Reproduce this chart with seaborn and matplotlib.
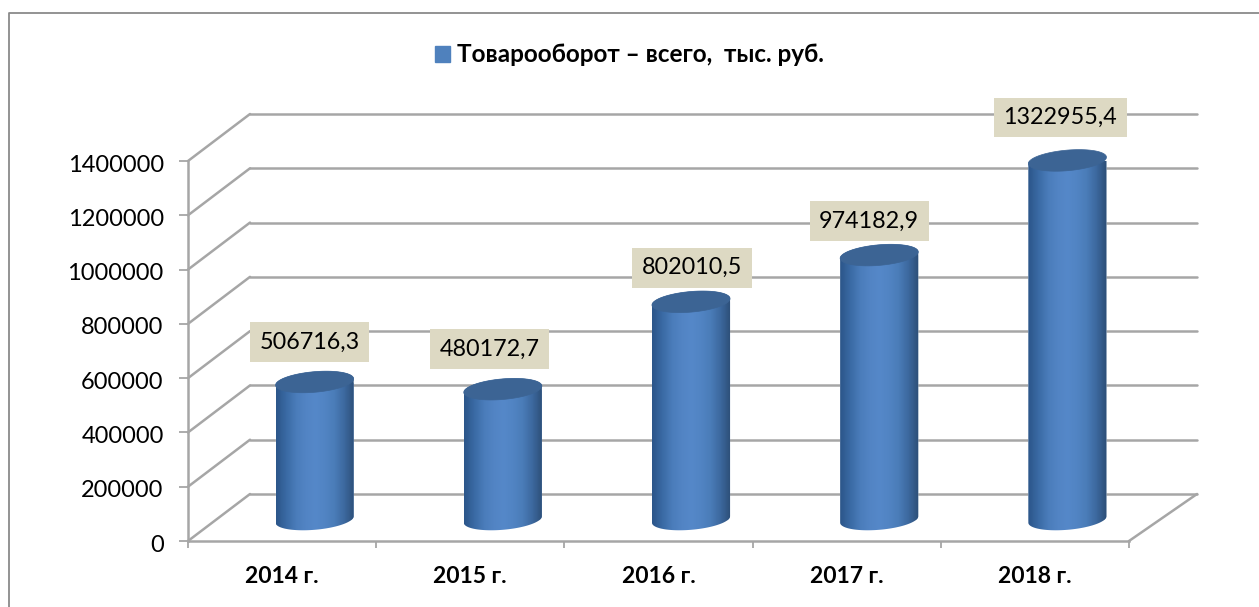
import numpy as np
import pandas as pd
import matplotlib
matplotlib.use("Agg")
import matplotlib.pyplot as plt
import seaborn as sns
from matplotlib.lines import Line2D
from matplotlib.patches import Patch, Polygon
from matplotlib.transforms import ScaledTranslation

years = ["2014 г.", "2015 г.", "2016 г.", "2017 г.", "2018 г."]
turnover = [506716.3, 480172.7, 802010.5, 974182.9, 1322955.4]
value_labels = ["506716,3", "480172,7", "802010,5", "974182,9", "1322955,4"]
y_ticks = [0, 200000, 400000, 600000, 800000, 1000000, 1200000, 1400000]
legend_label = "Товарооборот – всего,  тыс. руб."

W, H, DPI = 1259, 607, 100
sns.set_theme(style="white")
plt.rcParams["font.family"] = ["Lato", "Open Sans", "DejaVu Sans"]

GRID = "#A6A6A6"
LW = 1.8
fig = plt.figure(figsize=(W / DPI, H / DPI), dpi=DPI, facecolor="white")
ax = fig.add_axes([188 / W, 1 - 541 / H, (1129 - 188) / W, (541 - 161) / H])
ax.patch.set_alpha(0)

df = pd.DataFrame({"year": years, "value": turnover})
sns.barplot(data=df, x="year", y="value", color="#4F81BD", saturation=1,
            width=0.415, ax=ax, zorder=3)
ax.set_xlim(-0.5, 4.5)
ax.set_ylim(0, 1400000)
ax.set_xlabel("")
ax.set_ylabel("")
ax.set_yticks(y_ticks)
ax.set_yticklabels([str(v) for v in y_ticks])


def px_shift(dx, dy):
    return ScaledTranslation(dx / DPI, -dy / DPI, fig.dpi_scale_trans)


# back wall and floor
back = ax.transData + px_shift(62, -47)
right_extra = 6 / 188.2
for v in y_ticks:
    ax.plot([-0.5, 4.5 + right_extra], [v, v], color=GRID, lw=LW, transform=back,
            clip_on=False, zorder=1, solid_capstyle="round")
    start = ax.transData.transform((-0.5, v))
    end = back.transform((-0.5, v))
    ax.plot([start[0], end[0]], [start[1], end[1]], color=GRID, lw=LW, transform=None,
            clip_on=False, zorder=1)
s = ax.transData.transform((4.5, 0))
e = back.transform((4.5 + right_extra, 0))
ax.plot([s[0], e[0]], [s[1], e[1]], color=GRID, lw=LW, transform=None, clip_on=False, zorder=1)

# cylinders
mid = ax.transData + px_shift(32.5, -21.5)
sy = 1400000 / 380
ry = 10.3 * sy
tilt = 3.2 * sy
theta = np.linspace(0, 2 * np.pi, 121)
cmap = matplotlib.colors.LinearSegmentedColormap.from_list(
    "cyl", ["#2C568A", "#3A6AA4", "#4A7CBA", "#5284C4", "#5588C9", "#5184C3",
            "#4A7CB8", "#3C689E", "#2D4F78"])
for bar in list(ax.patches):
    x0, w, h = bar.get_x(), bar.get_width(), bar.get_height()
    xc, rx = x0 + w / 2, w / 2
    lower = np.linspace(np.pi, 2 * np.pi, 61)
    upper = np.linspace(0, np.pi, 61)
    body = np.vstack([
        np.c_[xc + rx * np.cos(lower), ry * np.sin(lower) + tilt * np.cos(lower)],
        np.c_[xc + rx * np.cos(upper), h + ry * np.sin(upper) + tilt * np.cos(upper)],
    ])
    cyl = Polygon(body, closed=True, transform=mid, facecolor="none", edgecolor="none")
    ax.add_patch(cyl)
    bar.set_transform(mid)
    bar.set_clip_path(cyl)
    im = ax.imshow(np.linspace(0, 1, 64)[None, :], cmap=cmap, aspect="auto",
                   extent=[x0, x0 + w, -2 * ry, h + 2 * ry], transform=mid, zorder=3.1)
    im.set_clip_path(cyl)
    cap = np.c_[xc + rx * np.cos(theta), h + ry * np.sin(theta) + tilt * np.cos(theta)]
    ax.add_patch(Polygon(cap, closed=True, transform=mid, facecolor="#3C6494",
                         edgecolor="#3C6494", lw=0.5, zorder=3.2, clip_on=False))
ax.set_xlim(-0.5, 4.5)
ax.set_ylim(0, 1400000)

# data labels
label_shift = [(-5, -42), (-13, -42), (1, -36), (-10, -36), (-7, -45)]
for i, (v, txt) in enumerate(zip(turnover, value_labels)):
    dx, dy = label_shift[i]
    ax.annotate(txt, xy=(i, v), xycoords=mid,
                xytext=(dx * 72 / DPI, -dy * 72 / DPI), textcoords="offset points",
                ha="center", va="center_baseline", fontsize=16.8, color="black", zorder=5,
                annotation_clip=False,
                bbox=dict(boxstyle="square,pad=0.4", facecolor="#DDD9C3", edgecolor="none"))

# axes styling
for side in ("top", "right"):
    ax.spines[side].set_visible(False)
for side in ("left", "bottom"):
    ax.spines[side].set_color(GRID)
    ax.spines[side].set_linewidth(LW)
    ax.spines[side].set_zorder(2)
ax.set_xticks(np.arange(-0.5, 5), minor=True)
ax.tick_params(axis="x", which="minor", length=5, width=1.3, color=GRID, bottom=True)
ax.tick_params(axis="x", which="major", length=0, pad=18, labelsize=16.5)
ax.tick_params(axis="y", which="major", length=6.5, width=1.3, color=GRID, left=True,
               pad=11, labelsize=17, labelcolor="black")
for t in ax.get_xticklabels():
    t.set_fontweight("bold")
    t.set_color("black")
for t in ax.get_yticklabels():
    t.set_transform(t.get_transform() + px_shift(0, 2))

# legend
handle = Patch(facecolor="#4F81BD", edgecolor="#4F81BD", label=legend_label)
fig.legend(handles=[handle], loc="center", bbox_to_anchor=(629.5 / W, 1 - 55 / H),
           frameon=False, handlelength=0.62, handleheight=0.62, handletextpad=0.3,
           prop={"weight": "bold", "size": 17.5}, labelcolor="black")

# outer frame
FR = "#8A8A8A"
fig.add_artist(Line2D([8.5 / W, 8.5 / W, 1], [0, 1 - 12.5 / H, 1 - 12.5 / H],
                      color=FR, lw=1.3, transform=fig.transFigure))

fig.savefig("out.png", dpi=DPI, facecolor="white")
